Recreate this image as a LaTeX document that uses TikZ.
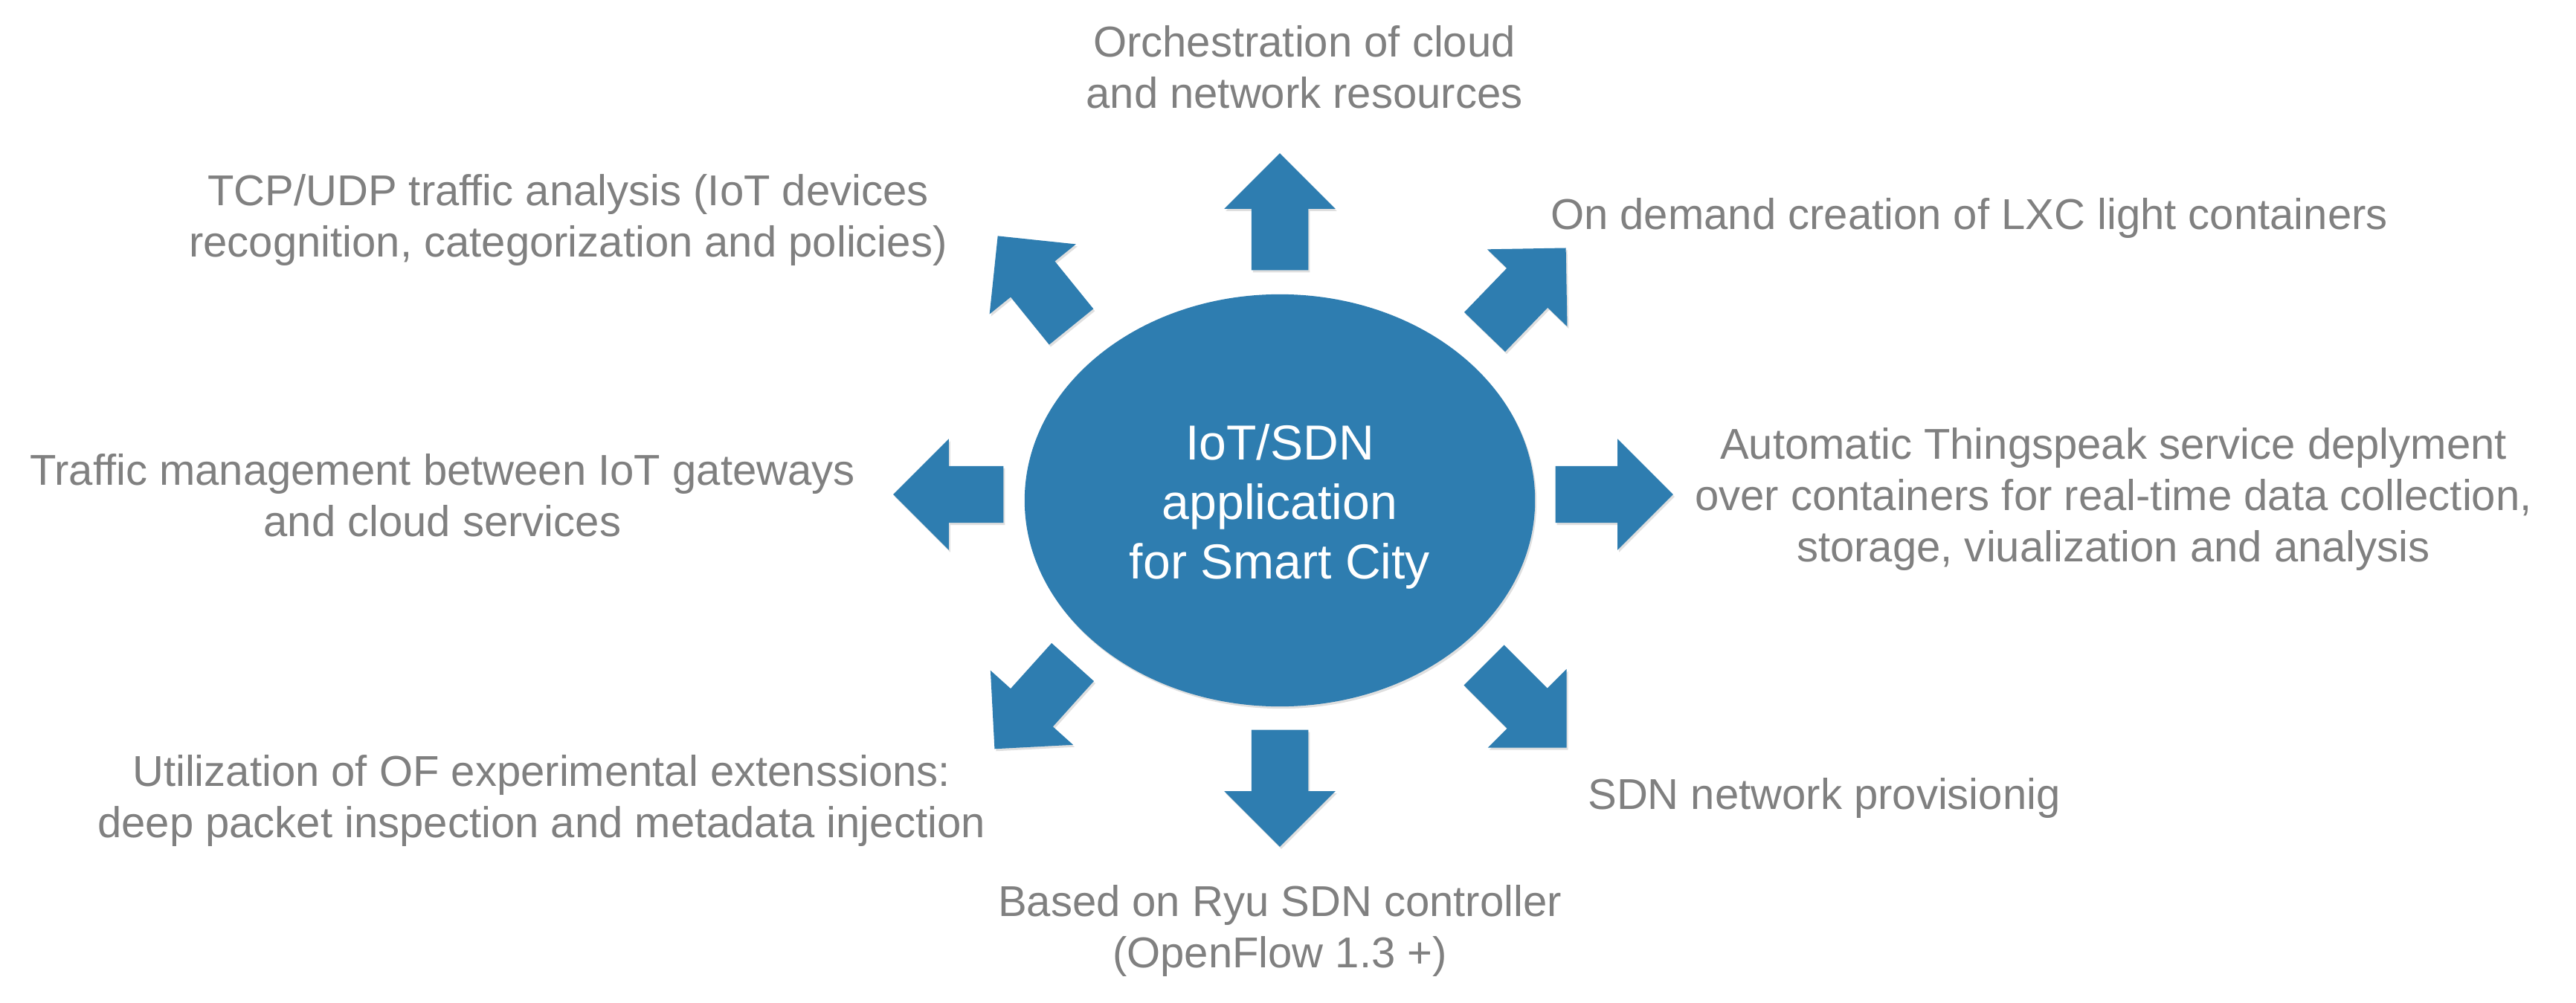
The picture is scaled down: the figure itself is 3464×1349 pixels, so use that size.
\documentclass[tikz,border=0pt]{standalone}
\usepackage{fontspec}
\setmainfont{Liberation Sans}
\usetikzlibrary{shapes.geometric,shapes.arrows,shadows}
\definecolor{feltblue}{RGB}{46,125,176}
\definecolor{labelgray}{RGB}{128,128,128}
\tikzset{
	blockarrow/.style={single arrow, fill=feltblue, draw=none, inner xsep=0pt, inner ysep=0.375cm,
		minimum width=1.48cm, minimum height=1.57cm, single arrow head extend=0.365cm,
		single arrow tip angle=90, anchor=tail,
		drop shadow={opacity=0.25, shadow xshift=0.02cm, shadow yshift=-0.03cm}},
	lbl/.style={text=labelgray, align=center, inner sep=0pt, anchor=north,
		font=\fontsize{16.5}{19.6}\selectfont},
}

\begin{document}
\begin{tikzpicture}[x=0.01cm, y=-0.01cm]
		\useasboundingbox[fill=white] (0,0) rectangle (3464,1349);
		% centre
		\node[ellipse, fill=feltblue, inner sep=0pt, minimum width=6.86cm, minimum height=5.54cm,
			drop shadow={opacity=0.25, shadow xshift=0.02cm, shadow yshift=-0.03cm}] (hub) at (1721,673) {};
		\node[text=white, align=center, inner sep=0pt, anchor=north,
			font=\fontsize{18.8}{22.8}\selectfont] (hubtext) at (1721,570) {IoT/SDN\\application\\for Smart City};
		% arrows
		\node[blockarrow, rotate=90] (aup) at (1721,364) {};
		\node[blockarrow, rotate=46] (aupright) at (1996,447) {};
		\node[blockarrow, rotate=0, minimum height=1.58cm] (aright) at (2091,665) {};
		\node[blockarrow, rotate=-45] (adownright) at (1995,894) {};
		\node[blockarrow, rotate=-90] (adown) at (1721,981) {};
		\node[blockarrow, rotate=-132] (adownleft) at (1443,890) {};
		\node[blockarrow, rotate=180, minimum height=1.48cm] (aleft) at (1350,665) {};
		\node[blockarrow, rotate=129] (aupleft) at (1441,440) {};
		% labels
		\node[lbl] (orch) at (1754,34) {Orchestration of cloud\\and network resources};
		\node[lbl] (lxc) at (2648,266) {On demand creation of LXC light containers};
		\node[lbl] (thing) at (2842,575) {Automatic Thingspeak service deplyment\\over containers for real-time data collection,\\storage, viualization and analysis};
		\node[lbl] (provis) at (2453,1046) {SDN network provisionig};
		\node[lbl] (ryu) at (1721,1190) {Based on Ryu SDN controller\\(OpenFlow 1.3 +)};
		\node[lbl] (ofext) at (728,1015) {Utilization of OF experimental extenssions:\\deep packet inspection and metadata injection};
		\node[lbl] (traffic) at (595,610) {Traffic management between IoT gateways\\and cloud services};
		\node[lbl] (tcp) at (764,234) {TCP/UDP traffic analysis (IoT devices\\recognition, categorization and policies)};
	\end{tikzpicture}
\end{document}
